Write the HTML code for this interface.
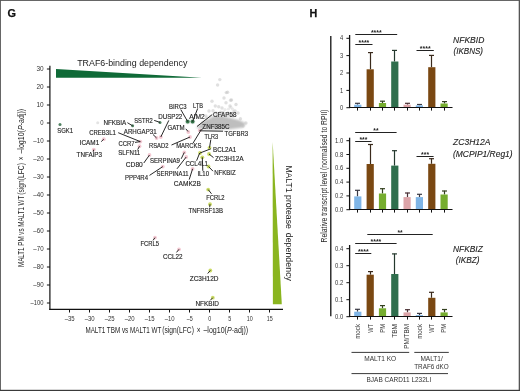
<!DOCTYPE html>
<html><head><meta charset="utf-8"><title>Figure G H</title>
<style>html,body{margin:0;padding:0;background:#fff}svg{display:block}</style></head>
<body>
<svg width="520" height="391" viewBox="0 0 520 391" font-family='"Liberation Sans", sans-serif'>
<rect x="0.0" y="0.0" width="520.0" height="391.0" fill="#fff"/>
<g opacity="0.999">
<text x="7.4" y="16.9" font-size="11.8" font-weight="bold" fill="#111" stroke="#111" stroke-width="0.25" textLength="8.5" lengthAdjust="spacingAndGlyphs">G</text>
<polygon points="56,68.9 56,77.8 202,77.8" fill="#0f6a37"/>
<text x="77.2" y="66.3" font-size="9" fill="#222" textLength="110.2" lengthAdjust="spacingAndGlyphs">TRAF6-binding dependency</text>
<polygon points="272.6,141 272.9,304.2 281.8,304.2" fill="#8ab51f"/>
<g transform="translate(286,165.4) rotate(90)">
<text x="0.0" y="0.0" font-size="9" fill="#222" textLength="63.4" lengthAdjust="spacingAndGlyphs">MALT1 protease</text>
<text x="67.3" y="0.0" font-size="9" fill="#222" textLength="48.3" lengthAdjust="spacingAndGlyphs">dependency</text>
</g>
<defs><filter id="b1" x="-20%" y="-20%" width="140%" height="140%"><feGaussianBlur stdDeviation="0.9"/></filter><filter id="b2" x="-20%" y="-20%" width="140%" height="140%"><feGaussianBlur stdDeviation="0.5"/></filter></defs>
<g filter="url(#b1)">
<polygon points="196,128 204.5,121.5 213,116.3 222,116 231,118 240,120.5 246,123.5 243,127.5 230,129.3 212,129.8" fill="#b9b9b9" fill-opacity="0.92"/>
</g>
<g filter="url(#b2)">
<circle cx="219.8" cy="79.6" r="1.7" fill="#c2c2c2" fill-opacity="0.5"/>
<circle cx="217.6" cy="85.0" r="1.7" fill="#c2c2c2" fill-opacity="0.5"/>
<circle cx="226.3" cy="92.6" r="1.7" fill="#c2c2c2" fill-opacity="0.5"/>
<circle cx="224.0" cy="98.0" r="1.7" fill="#c2c2c2" fill-opacity="0.5"/>
<circle cx="230.6" cy="100.2" r="1.7" fill="#c2c2c2" fill-opacity="0.5"/>
<circle cx="212.0" cy="101.3" r="1.7" fill="#c2c2c2" fill-opacity="0.5"/>
<circle cx="218.7" cy="106.7" r="1.7" fill="#c2c2c2" fill-opacity="0.5"/>
<circle cx="209.0" cy="111.0" r="1.7" fill="#c2c2c2" fill-opacity="0.5"/>
<circle cx="235.0" cy="111.0" r="1.7" fill="#c2c2c2" fill-opacity="0.5"/>
<circle cx="240.4" cy="118.7" r="1.7" fill="#c2c2c2" fill-opacity="0.5"/>
<circle cx="245.9" cy="123.0" r="1.7" fill="#c2c2c2" fill-opacity="0.5"/>
<circle cx="227.6" cy="92.3" r="1.7" fill="#c2c2c2" fill-opacity="0.5"/>
<circle cx="231.5" cy="100.0" r="1.7" fill="#c2c2c2" fill-opacity="0.5"/>
<circle cx="226.0" cy="102.7" r="1.7" fill="#c2c2c2" fill-opacity="0.5"/>
<circle cx="215.3" cy="106.0" r="1.7" fill="#c2c2c2" fill-opacity="0.5"/>
<circle cx="213.0" cy="110.7" r="1.7" fill="#c2c2c2" fill-opacity="0.5"/>
<circle cx="220.7" cy="112.2" r="1.7" fill="#c2c2c2" fill-opacity="0.5"/>
<circle cx="230.0" cy="106.0" r="1.7" fill="#c2c2c2" fill-opacity="0.5"/>
<circle cx="236.0" cy="104.5" r="1.7" fill="#c2c2c2" fill-opacity="0.5"/>
<circle cx="238.0" cy="113.0" r="1.7" fill="#c2c2c2" fill-opacity="0.5"/>
<circle cx="222.0" cy="108.0" r="1.7" fill="#c2c2c2" fill-opacity="0.5"/>
<circle cx="228.0" cy="113.0" r="1.7" fill="#c2c2c2" fill-opacity="0.5"/>
<circle cx="216.0" cy="113.0" r="1.7" fill="#c2c2c2" fill-opacity="0.5"/>
<circle cx="206.0" cy="116.0" r="1.7" fill="#c2c2c2" fill-opacity="0.5"/>
<circle cx="243.0" cy="126.0" r="1.7" fill="#c2c2c2" fill-opacity="0.5"/>
<circle cx="233.0" cy="116.0" r="1.7" fill="#c2c2c2" fill-opacity="0.5"/>
<circle cx="214.7" cy="121.0" r="1.6" fill="#bcbcbc" fill-opacity="0.3"/>
<circle cx="202.6" cy="122.6" r="1.6" fill="#bcbcbc" fill-opacity="0.3"/>
<circle cx="203.4" cy="123.1" r="1.6" fill="#bcbcbc" fill-opacity="0.3"/>
<circle cx="217.5" cy="117.5" r="1.6" fill="#bcbcbc" fill-opacity="0.3"/>
<circle cx="216.9" cy="116.2" r="1.6" fill="#bcbcbc" fill-opacity="0.3"/>
<circle cx="206.2" cy="117.7" r="1.6" fill="#bcbcbc" fill-opacity="0.3"/>
<circle cx="217.3" cy="119.1" r="1.6" fill="#bcbcbc" fill-opacity="0.3"/>
<circle cx="204.6" cy="122.6" r="1.6" fill="#bcbcbc" fill-opacity="0.3"/>
<circle cx="208.2" cy="122.5" r="1.6" fill="#bcbcbc" fill-opacity="0.3"/>
<circle cx="230.9" cy="115.0" r="1.6" fill="#bcbcbc" fill-opacity="0.3"/>
<circle cx="222.0" cy="116.3" r="1.6" fill="#bcbcbc" fill-opacity="0.3"/>
<circle cx="205.4" cy="123.3" r="1.6" fill="#bcbcbc" fill-opacity="0.3"/>
<circle cx="223.6" cy="114.2" r="1.6" fill="#bcbcbc" fill-opacity="0.3"/>
<circle cx="220.3" cy="115.3" r="1.6" fill="#bcbcbc" fill-opacity="0.3"/>
<circle cx="228.5" cy="109.0" r="1.6" fill="#bcbcbc" fill-opacity="0.3"/>
<circle cx="217.5" cy="114.0" r="1.6" fill="#bcbcbc" fill-opacity="0.3"/>
<circle cx="225.5" cy="120.7" r="1.6" fill="#bcbcbc" fill-opacity="0.3"/>
<circle cx="203.1" cy="123.1" r="1.6" fill="#bcbcbc" fill-opacity="0.3"/>
<circle cx="206.6" cy="121.6" r="1.6" fill="#bcbcbc" fill-opacity="0.3"/>
<circle cx="225.0" cy="109.5" r="1.6" fill="#bcbcbc" fill-opacity="0.3"/>
<circle cx="230.6" cy="115.0" r="1.6" fill="#bcbcbc" fill-opacity="0.3"/>
<circle cx="220.3" cy="113.1" r="1.6" fill="#bcbcbc" fill-opacity="0.3"/>
<circle cx="232.7" cy="109.2" r="1.6" fill="#bcbcbc" fill-opacity="0.3"/>
<circle cx="227.5" cy="115.0" r="1.6" fill="#bcbcbc" fill-opacity="0.3"/>
<circle cx="227.7" cy="113.4" r="1.6" fill="#bcbcbc" fill-opacity="0.3"/>
<circle cx="209.4" cy="121.2" r="1.6" fill="#bcbcbc" fill-opacity="0.3"/>
<circle cx="201.6" cy="123.8" r="1.6" fill="#bcbcbc" fill-opacity="0.3"/>
<circle cx="209.2" cy="122.9" r="1.6" fill="#bcbcbc" fill-opacity="0.3"/>
<circle cx="206.4" cy="123.2" r="1.6" fill="#bcbcbc" fill-opacity="0.3"/>
<circle cx="233.5" cy="111.9" r="1.6" fill="#bcbcbc" fill-opacity="0.3"/>
<circle cx="223.4" cy="112.1" r="1.6" fill="#bcbcbc" fill-opacity="0.3"/>
<circle cx="231.0" cy="113.7" r="1.6" fill="#bcbcbc" fill-opacity="0.3"/>
<circle cx="218.0" cy="115.0" r="1.6" fill="#bcbcbc" fill-opacity="0.3"/>
<circle cx="207.8" cy="122.5" r="1.6" fill="#bcbcbc" fill-opacity="0.3"/>
<circle cx="207.3" cy="120.5" r="1.6" fill="#bcbcbc" fill-opacity="0.3"/>
<circle cx="213.0" cy="119.8" r="1.6" fill="#bcbcbc" fill-opacity="0.3"/>
<circle cx="210.0" cy="116.1" r="1.6" fill="#bcbcbc" fill-opacity="0.3"/>
<circle cx="222.7" cy="112.6" r="1.6" fill="#bcbcbc" fill-opacity="0.3"/>
<circle cx="229.0" cy="115.3" r="1.6" fill="#bcbcbc" fill-opacity="0.3"/>
<circle cx="231.0" cy="107.4" r="1.6" fill="#bcbcbc" fill-opacity="0.3"/>
<circle cx="97.7" cy="122.7" r="1.5" fill="#d0d0d0" fill-opacity="0.6"/>
</g>
<line x1="49.9" y1="65.8" x2="49.9" y2="309.9" stroke="#111" stroke-width="1.2"/>
<line x1="49.3" y1="309.4" x2="283.0" y2="309.4" stroke="#111" stroke-width="1.2"/>
<line x1="46.9" y1="69.0" x2="50.0" y2="69.0" stroke="#111" stroke-width="1.0"/>
<text x="36.4" y="71.0" font-size="6.4" fill="#333" textLength="7.2" lengthAdjust="spacingAndGlyphs">30</text>
<line x1="46.9" y1="87.0" x2="50.0" y2="87.0" stroke="#111" stroke-width="1.0"/>
<text x="36.4" y="89.0" font-size="6.4" fill="#333" textLength="7.2" lengthAdjust="spacingAndGlyphs">20</text>
<line x1="46.9" y1="105.0" x2="50.0" y2="105.0" stroke="#111" stroke-width="1.0"/>
<text x="36.4" y="107.0" font-size="6.4" fill="#333" textLength="7.2" lengthAdjust="spacingAndGlyphs">10</text>
<line x1="46.9" y1="123.0" x2="50.0" y2="123.0" stroke="#111" stroke-width="1.0"/>
<text x="40.3" y="125.0" font-size="6.4" fill="#333" textLength="3.3" lengthAdjust="spacingAndGlyphs">0</text>
<line x1="46.9" y1="141.0" x2="50.0" y2="141.0" stroke="#111" stroke-width="1.0"/>
<text x="33.3" y="143.0" font-size="6.4" fill="#333" textLength="10.3" lengthAdjust="spacingAndGlyphs">–10</text>
<line x1="46.9" y1="159.0" x2="50.0" y2="159.0" stroke="#111" stroke-width="1.0"/>
<text x="33.3" y="161.0" font-size="6.4" fill="#333" textLength="10.3" lengthAdjust="spacingAndGlyphs">–20</text>
<line x1="46.9" y1="177.0" x2="50.0" y2="177.0" stroke="#111" stroke-width="1.0"/>
<text x="33.3" y="179.0" font-size="6.4" fill="#333" textLength="10.3" lengthAdjust="spacingAndGlyphs">–30</text>
<line x1="46.9" y1="195.0" x2="50.0" y2="195.0" stroke="#111" stroke-width="1.0"/>
<text x="33.3" y="197.0" font-size="6.4" fill="#333" textLength="10.3" lengthAdjust="spacingAndGlyphs">–40</text>
<line x1="46.9" y1="213.0" x2="50.0" y2="213.0" stroke="#111" stroke-width="1.0"/>
<text x="33.3" y="215.0" font-size="6.4" fill="#333" textLength="10.3" lengthAdjust="spacingAndGlyphs">–50</text>
<line x1="46.9" y1="231.0" x2="50.0" y2="231.0" stroke="#111" stroke-width="1.0"/>
<text x="33.3" y="233.0" font-size="6.4" fill="#333" textLength="10.3" lengthAdjust="spacingAndGlyphs">–60</text>
<line x1="46.9" y1="249.0" x2="50.0" y2="249.0" stroke="#111" stroke-width="1.0"/>
<text x="33.3" y="251.0" font-size="6.4" fill="#333" textLength="10.3" lengthAdjust="spacingAndGlyphs">–70</text>
<line x1="46.9" y1="267.0" x2="50.0" y2="267.0" stroke="#111" stroke-width="1.0"/>
<text x="33.3" y="269.0" font-size="6.4" fill="#333" textLength="10.3" lengthAdjust="spacingAndGlyphs">–80</text>
<line x1="46.9" y1="285.0" x2="50.0" y2="285.0" stroke="#111" stroke-width="1.0"/>
<text x="33.3" y="287.0" font-size="6.4" fill="#333" textLength="10.3" lengthAdjust="spacingAndGlyphs">–90</text>
<line x1="46.9" y1="303.0" x2="50.0" y2="303.0" stroke="#111" stroke-width="1.0"/>
<text x="30.6" y="305.0" font-size="6.4" fill="#333" textLength="13.0" lengthAdjust="spacingAndGlyphs">–100</text>
<line x1="69.5" y1="309.3" x2="69.5" y2="312.5" stroke="#111" stroke-width="1.0"/>
<text x="64.7" y="320.8" font-size="6.4" fill="#333" textLength="10.0" lengthAdjust="spacingAndGlyphs">–35</text>
<line x1="89.5" y1="309.3" x2="89.5" y2="312.5" stroke="#111" stroke-width="1.0"/>
<text x="84.7" y="320.8" font-size="6.4" fill="#333" textLength="10.0" lengthAdjust="spacingAndGlyphs">–30</text>
<line x1="109.5" y1="309.3" x2="109.5" y2="312.5" stroke="#111" stroke-width="1.0"/>
<text x="104.7" y="320.8" font-size="6.4" fill="#333" textLength="10.0" lengthAdjust="spacingAndGlyphs">–25</text>
<line x1="129.5" y1="309.3" x2="129.5" y2="312.5" stroke="#111" stroke-width="1.0"/>
<text x="124.7" y="320.8" font-size="6.4" fill="#333" textLength="10.0" lengthAdjust="spacingAndGlyphs">–20</text>
<line x1="149.5" y1="309.3" x2="149.5" y2="312.5" stroke="#111" stroke-width="1.0"/>
<text x="144.7" y="320.8" font-size="6.4" fill="#333" textLength="10.0" lengthAdjust="spacingAndGlyphs">–15</text>
<line x1="169.5" y1="309.3" x2="169.5" y2="312.5" stroke="#111" stroke-width="1.0"/>
<text x="164.7" y="320.8" font-size="6.4" fill="#333" textLength="10.0" lengthAdjust="spacingAndGlyphs">–10</text>
<line x1="189.5" y1="309.3" x2="189.5" y2="312.5" stroke="#111" stroke-width="1.0"/>
<text x="186.7" y="320.8" font-size="6.4" fill="#333" textLength="6.0" lengthAdjust="spacingAndGlyphs">–5</text>
<line x1="209.5" y1="309.3" x2="209.5" y2="312.5" stroke="#111" stroke-width="1.0"/>
<text x="208.2" y="320.8" font-size="6.4" fill="#333" textLength="3.0" lengthAdjust="spacingAndGlyphs">0</text>
<line x1="229.5" y1="309.3" x2="229.5" y2="312.5" stroke="#111" stroke-width="1.0"/>
<text x="228.2" y="320.8" font-size="6.4" fill="#333" textLength="3.0" lengthAdjust="spacingAndGlyphs">5</text>
<line x1="249.5" y1="309.3" x2="249.5" y2="312.5" stroke="#111" stroke-width="1.0"/>
<text x="246.7" y="320.8" font-size="6.4" fill="#333" textLength="6.0" lengthAdjust="spacingAndGlyphs">10</text>
<line x1="269.5" y1="309.3" x2="269.5" y2="312.5" stroke="#111" stroke-width="1.0"/>
<text x="266.7" y="320.8" font-size="6.4" fill="#333" textLength="6.0" lengthAdjust="spacingAndGlyphs">15</text>
<g transform="translate(85.4,333.4)">
<text x="0.0" y="0.0" font-size="9" fill="#262626" textLength="75.9" lengthAdjust="spacingAndGlyphs">MALT1 TBM vs MALT1 WT</text>
<text x="76.9" y="0.0" font-size="9" fill="#262626" textLength="31.6" lengthAdjust="spacingAndGlyphs">(sign(LFC)</text>
<text x="111.4" y="0.0" font-size="9" fill="#262626" textLength="3.8" lengthAdjust="spacingAndGlyphs">×</text>
<text x="118.0" y="0" font-size="9" fill="#262626" textLength="44.8" lengthAdjust="spacingAndGlyphs">–log10(<tspan font-style="italic">P</tspan>-adj))</text>
</g>
<g transform="translate(23.6,267) rotate(-90)">
<text x="0.0" y="0.0" font-size="9" fill="#262626" textLength="71.3" lengthAdjust="spacingAndGlyphs">MALT1 PM vs MALT1 WT</text>
<text x="72.3" y="0.0" font-size="9" fill="#262626" textLength="31.6" lengthAdjust="spacingAndGlyphs">(sign(LFC)</text>
<text x="106.8" y="0.0" font-size="9" fill="#262626" textLength="3.8" lengthAdjust="spacingAndGlyphs">×</text>
<text x="113.4" y="0" font-size="9" fill="#262626" textLength="44.8" lengthAdjust="spacingAndGlyphs">–log10(<tspan font-style="italic">P</tspan>-adj))</text>
</g>
<circle cx="60.0" cy="124.5" r="1.5" fill="#3c7450" fill-opacity="0.9"/>
<circle cx="132.6" cy="125.8" r="1.5" fill="#3c7450" fill-opacity="0.9"/>
<circle cx="160.0" cy="122.4" r="1.5" fill="#3c7450" fill-opacity="0.9"/>
<circle cx="160.8" cy="137.0" r="1.9" fill="#f0b4c2" fill-opacity="0.72"/>
<circle cx="156.6" cy="138.0" r="1.9" fill="#f0b4c2" fill-opacity="0.72"/>
<circle cx="140.3" cy="141.6" r="1.9" fill="#f0b4c2" fill-opacity="0.72"/>
<circle cx="139.5" cy="146.2" r="1.9" fill="#f0b4c2" fill-opacity="0.72"/>
<circle cx="103.8" cy="139.2" r="1.9" fill="#f0b4c2" fill-opacity="0.72"/>
<circle cx="93.8" cy="149.6" r="1.9" fill="#f0b4c2" fill-opacity="0.72"/>
<circle cx="149.5" cy="155.0" r="1.9" fill="#f0b4c2" fill-opacity="0.72"/>
<circle cx="162.8" cy="166.6" r="1.9" fill="#f0b4c2" fill-opacity="0.72"/>
<circle cx="184.3" cy="152.4" r="1.9" fill="#f0b4c2" fill-opacity="0.72"/>
<circle cx="186.2" cy="157.0" r="1.9" fill="#f0b4c2" fill-opacity="0.72"/>
<circle cx="192.6" cy="168.8" r="1.9" fill="#f0b4c2" fill-opacity="0.72"/>
<circle cx="190.0" cy="137.0" r="1.9" fill="#f0b4c2" fill-opacity="0.72"/>
<circle cx="188.3" cy="132.0" r="1.9" fill="#f0b4c2" fill-opacity="0.72"/>
<circle cx="187.7" cy="121.6" r="2.6" fill="#8aa694" fill-opacity="0.35"/>
<circle cx="187.7" cy="121.6" r="1.9" fill="#2b7341" fill-opacity="0.92"/>
<circle cx="192.6" cy="121.6" r="2.6" fill="#8aa694" fill-opacity="0.35"/>
<circle cx="192.6" cy="121.6" r="1.9" fill="#256b3b" fill-opacity="0.92"/>
<circle cx="199.7" cy="130.4" r="1.9" fill="#f0b4c2" fill-opacity="0.72"/>
<circle cx="209.5" cy="147.8" r="1.9" fill="#c3d64e" fill-opacity="0.85"/>
<circle cx="200.0" cy="153.0" r="1.9" fill="#c3d64e" fill-opacity="0.85"/>
<circle cx="209.0" cy="154.0" r="1.9" fill="#c3d64e" fill-opacity="0.85"/>
<circle cx="202.3" cy="157.3" r="1.9" fill="#c3d64e" fill-opacity="0.85"/>
<circle cx="208.5" cy="166.5" r="1.9" fill="#c3d64e" fill-opacity="0.85"/>
<circle cx="208.2" cy="189.6" r="1.9" fill="#c3d64e" fill-opacity="0.85"/>
<circle cx="210.0" cy="204.2" r="1.9" fill="#c3d64e" fill-opacity="0.85"/>
<circle cx="155.0" cy="237.6" r="1.9" fill="#f0b4c2" fill-opacity="0.72"/>
<circle cx="179.0" cy="249.3" r="1.9" fill="#f0b4c2" fill-opacity="0.72"/>
<circle cx="210.3" cy="270.5" r="1.9" fill="#c3d64e" fill-opacity="0.85"/>
<circle cx="212.8" cy="297.7" r="1.9" fill="#c3d64e" fill-opacity="0.85"/>
<line x1="127.4" y1="122.7" x2="132.6" y2="125.8" stroke="#1c1c1c" stroke-width="0.95"/>
<line x1="154.2" y1="120.4" x2="160.0" y2="122.4" stroke="#1c1c1c" stroke-width="0.95"/>
<line x1="168.8" y1="120.4" x2="160.8" y2="137.0" stroke="#1c1c1c" stroke-width="0.95"/>
<line x1="153.0" y1="134.5" x2="156.6" y2="138.0" stroke="#1c1c1c" stroke-width="0.95"/>
<line x1="118.2" y1="132.7" x2="140.3" y2="141.6" stroke="#1c1c1c" stroke-width="0.95"/>
<line x1="135.0" y1="142.4" x2="140.3" y2="141.6" stroke="#1c1c1c" stroke-width="0.95"/>
<line x1="137.7" y1="149.6" x2="139.5" y2="146.2" stroke="#1c1c1c" stroke-width="0.95"/>
<line x1="101.2" y1="141.6" x2="103.8" y2="139.2" stroke="#1c1c1c" stroke-width="0.95"/>
<line x1="93.2" y1="151.8" x2="93.8" y2="149.6" stroke="#1c1c1c" stroke-width="0.95"/>
<line x1="143.8" y1="163.0" x2="149.5" y2="155.0" stroke="#1c1c1c" stroke-width="0.95"/>
<line x1="149.5" y1="175.4" x2="162.8" y2="166.6" stroke="#1c1c1c" stroke-width="0.95"/>
<line x1="181.2" y1="158.8" x2="184.3" y2="152.4" stroke="#1c1c1c" stroke-width="0.95"/>
<line x1="177.0" y1="168.8" x2="186.2" y2="157.0" stroke="#1c1c1c" stroke-width="0.95"/>
<line x1="189.2" y1="179.6" x2="192.6" y2="168.8" stroke="#1c1c1c" stroke-width="0.95"/>
<line x1="171.5" y1="145.0" x2="190.0" y2="137.0" stroke="#1c1c1c" stroke-width="0.95"/>
<line x1="185.8" y1="128.8" x2="188.0" y2="131.5" stroke="#1c1c1c" stroke-width="0.95"/>
<line x1="180.8" y1="109.6" x2="187.7" y2="121.6" stroke="#1c1c1c" stroke-width="0.95"/>
<line x1="197.7" y1="108.4" x2="192.6" y2="121.6" stroke="#1c1c1c" stroke-width="0.95"/>
<line x1="212.3" y1="114.5" x2="197.0" y2="126.5" stroke="#1c1c1c" stroke-width="0.95"/>
<line x1="199.7" y1="130.8" x2="223.0" y2="131.2" stroke="#1c1c1c" stroke-width="0.95"/>
<line x1="193.0" y1="143.2" x2="200.3" y2="131.2" stroke="#1c1c1c" stroke-width="0.95"/>
<line x1="202.5" y1="129.4" x2="199.7" y2="130.5" stroke="#1c1c1c" stroke-width="0.95"/>
<line x1="210.8" y1="139.6" x2="209.5" y2="147.8" stroke="#1c1c1c" stroke-width="0.95"/>
<line x1="210.8" y1="148.8" x2="200.0" y2="153.0" stroke="#1c1c1c" stroke-width="0.95"/>
<line x1="213.5" y1="157.6" x2="209.0" y2="154.0" stroke="#1c1c1c" stroke-width="0.95"/>
<line x1="196.6" y1="160.7" x2="199.7" y2="153.0" stroke="#1c1c1c" stroke-width="0.95"/>
<line x1="202.3" y1="157.3" x2="202.8" y2="170.8" stroke="#1c1c1c" stroke-width="0.95"/>
<line x1="213.0" y1="171.2" x2="208.5" y2="166.5" stroke="#1c1c1c" stroke-width="0.95"/>
<line x1="211.5" y1="193.8" x2="208.2" y2="189.6" stroke="#1c1c1c" stroke-width="0.95"/>
<line x1="209.7" y1="207.3" x2="210.0" y2="204.2" stroke="#1c1c1c" stroke-width="0.95"/>
<line x1="153.0" y1="240.4" x2="155.0" y2="237.6" stroke="#1c1c1c" stroke-width="0.95"/>
<line x1="176.5" y1="252.4" x2="179.0" y2="249.3" stroke="#1c1c1c" stroke-width="0.95"/>
<line x1="207.7" y1="273.5" x2="210.3" y2="270.5" stroke="#1c1c1c" stroke-width="0.95"/>
<line x1="210.3" y1="300.3" x2="212.8" y2="297.7" stroke="#1c1c1c" stroke-width="0.95"/>
<text x="57.2" y="132.5" font-size="6.8" fill="#262626" stroke="#262626" stroke-width="0.15" textLength="15.8" lengthAdjust="spacingAndGlyphs">SGK1</text>
<text x="103.4" y="124.6" font-size="6.8" fill="#262626" stroke="#262626" stroke-width="0.15" textLength="22.8" lengthAdjust="spacingAndGlyphs">NFKBIA</text>
<text x="89.2" y="135.1" font-size="6.8" fill="#262626" stroke="#262626" stroke-width="0.15" textLength="26.6" lengthAdjust="spacingAndGlyphs">CREB3L1</text>
<text x="79.7" y="144.6" font-size="6.8" fill="#262626" stroke="#262626" stroke-width="0.15" textLength="19.5" lengthAdjust="spacingAndGlyphs">ICAM1</text>
<text x="76.6" y="157.4" font-size="6.8" fill="#262626" stroke="#262626" stroke-width="0.15" textLength="25.4" lengthAdjust="spacingAndGlyphs">TNFAIP3</text>
<text x="134.2" y="122.5" font-size="6.8" fill="#262626" stroke="#262626" stroke-width="0.15" textLength="18.6" lengthAdjust="spacingAndGlyphs">SSTR2</text>
<text x="158.2" y="119.3" font-size="6.8" fill="#262626" stroke="#262626" stroke-width="0.15" textLength="24.1" lengthAdjust="spacingAndGlyphs">DUSP22</text>
<text x="123.8" y="134.3" font-size="6.8" fill="#262626" stroke="#262626" stroke-width="0.15" textLength="32.8" lengthAdjust="spacingAndGlyphs">ARHGAP31</text>
<text x="118.5" y="145.9" font-size="6.8" fill="#262626" stroke="#262626" stroke-width="0.15" textLength="16.1" lengthAdjust="spacingAndGlyphs">CCR7</text>
<text x="118.2" y="155.1" font-size="6.8" fill="#262626" stroke="#262626" stroke-width="0.15" textLength="22.1" lengthAdjust="spacingAndGlyphs">SLFN11</text>
<text x="149.0" y="147.9" font-size="6.8" fill="#262626" stroke="#262626" stroke-width="0.15" textLength="19.5" lengthAdjust="spacingAndGlyphs">RSAD2</text>
<text x="167.4" y="129.9" font-size="6.8" fill="#262626" stroke="#262626" stroke-width="0.15" textLength="17.2" lengthAdjust="spacingAndGlyphs">GATM</text>
<text x="169.0" y="108.9" font-size="6.8" fill="#262626" stroke="#262626" stroke-width="0.15" textLength="17.5" lengthAdjust="spacingAndGlyphs">BIRC3</text>
<text x="193.0" y="108.1" font-size="6.8" fill="#262626" stroke="#262626" stroke-width="0.15" textLength="10.0" lengthAdjust="spacingAndGlyphs">LTB</text>
<text x="189.2" y="118.6" font-size="6.8" fill="#262626" stroke="#262626" stroke-width="0.15" textLength="15.4" lengthAdjust="spacingAndGlyphs">AIM2</text>
<text x="213.0" y="116.9" font-size="6.8" fill="#262626" stroke="#262626" stroke-width="0.15" textLength="23.5" lengthAdjust="spacingAndGlyphs">CFAP58</text>
<text x="202.3" y="128.9" font-size="6.8" fill="#262626" stroke="#262626" stroke-width="0.15" textLength="27.2" lengthAdjust="spacingAndGlyphs">ZNF385C</text>
<text x="224.5" y="135.6" font-size="6.8" fill="#262626" stroke="#262626" stroke-width="0.15" textLength="23.5" lengthAdjust="spacingAndGlyphs">TGFBR3</text>
<text x="204.6" y="138.9" font-size="6.8" fill="#262626" stroke="#262626" stroke-width="0.15" textLength="13.6" lengthAdjust="spacingAndGlyphs">TLR3</text>
<text x="176.2" y="147.7" font-size="6.8" fill="#262626" stroke="#262626" stroke-width="0.15" textLength="25.3" lengthAdjust="spacingAndGlyphs">MARCKS</text>
<text x="213.0" y="151.6" font-size="6.8" fill="#262626" stroke="#262626" stroke-width="0.15" textLength="23.2" lengthAdjust="spacingAndGlyphs">BCL2A1</text>
<text x="215.0" y="160.6" font-size="6.8" fill="#262626" stroke="#262626" stroke-width="0.15" textLength="28.7" lengthAdjust="spacingAndGlyphs">ZC3H12A</text>
<text x="185.4" y="165.9" font-size="6.8" fill="#262626" stroke="#262626" stroke-width="0.15" textLength="22.6" lengthAdjust="spacingAndGlyphs">CCL4L1</text>
<text x="197.4" y="176.1" font-size="6.8" fill="#262626" stroke="#262626" stroke-width="0.15" textLength="11.6" lengthAdjust="spacingAndGlyphs">IL10</text>
<text x="214.2" y="174.6" font-size="6.8" fill="#262626" stroke="#262626" stroke-width="0.15" textLength="21.5" lengthAdjust="spacingAndGlyphs">NFKBIZ</text>
<text x="150.0" y="163.1" font-size="6.8" fill="#262626" stroke="#262626" stroke-width="0.15" textLength="30.0" lengthAdjust="spacingAndGlyphs">SERPINA9</text>
<text x="156.6" y="175.7" font-size="6.8" fill="#262626" stroke="#262626" stroke-width="0.15" textLength="31.9" lengthAdjust="spacingAndGlyphs">SERPINA11</text>
<text x="173.8" y="186.1" font-size="6.8" fill="#262626" stroke="#262626" stroke-width="0.15" textLength="27.0" lengthAdjust="spacingAndGlyphs">CAMK2B</text>
<text x="125.8" y="167.1" font-size="6.8" fill="#262626" stroke="#262626" stroke-width="0.15" textLength="17.0" lengthAdjust="spacingAndGlyphs">CD80</text>
<text x="125.0" y="180.1" font-size="6.8" fill="#262626" stroke="#262626" stroke-width="0.15" textLength="23.0" lengthAdjust="spacingAndGlyphs">PPP4R4</text>
<text x="206.2" y="199.7" font-size="6.8" fill="#262626" stroke="#262626" stroke-width="0.15" textLength="18.4" lengthAdjust="spacingAndGlyphs">FCRL2</text>
<text x="188.5" y="212.8" font-size="6.8" fill="#262626" stroke="#262626" stroke-width="0.15" textLength="34.5" lengthAdjust="spacingAndGlyphs">TNFRSF13B</text>
<text x="140.5" y="246.3" font-size="6.8" fill="#262626" stroke="#262626" stroke-width="0.15" textLength="18.5" lengthAdjust="spacingAndGlyphs">FCRL5</text>
<text x="163.0" y="258.6" font-size="6.8" fill="#262626" stroke="#262626" stroke-width="0.15" textLength="19.6" lengthAdjust="spacingAndGlyphs">CCL22</text>
<text x="189.7" y="280.9" font-size="6.8" fill="#262626" stroke="#262626" stroke-width="0.15" textLength="28.8" lengthAdjust="spacingAndGlyphs">ZC3H12D</text>
<text x="195.4" y="306.3" font-size="6.8" fill="#262626" stroke="#262626" stroke-width="0.15" textLength="23.6" lengthAdjust="spacingAndGlyphs">NFKBID</text>
<text x="309.6" y="16.7" font-size="11.8" font-weight="bold" fill="#111" stroke="#111" stroke-width="0.25" textLength="7.8" lengthAdjust="spacingAndGlyphs">H</text>
<line x1="330.8" y1="36.0" x2="330.8" y2="316.3" stroke="#111" stroke-width="1.3"/>
<g transform="translate(326.6,242.4) rotate(-90)">
<text x="0.0" y="0.0" font-size="8.8" fill="#262626" textLength="133.0" lengthAdjust="spacingAndGlyphs">Relative transcript level (normalised to RPII)</text>
</g>
<line x1="357.5" y1="104.7" x2="357.5" y2="103.0" stroke="#3a3a44" stroke-width="1.2"/>
<line x1="355.0" y1="103.3" x2="360.0" y2="103.3" stroke="#3a3a44" stroke-width="1.2"/>
<rect x="354.2" y="104.7" width="7.2" height="2.8" fill="#7fb5e6"/>
<line x1="370.5" y1="69.3" x2="370.5" y2="52.3" stroke="#3a2a1c" stroke-width="1.2"/>
<line x1="368.0" y1="52.6" x2="373.0" y2="52.6" stroke="#3a2a1c" stroke-width="1.2"/>
<rect x="366.6" y="69.3" width="7.2" height="38.2" fill="#7a4812"/>
<line x1="382.5" y1="103.0" x2="382.5" y2="100.9" stroke="#33401f" stroke-width="1.2"/>
<line x1="380.0" y1="101.2" x2="385.0" y2="101.2" stroke="#33401f" stroke-width="1.2"/>
<rect x="378.9" y="103.0" width="7.2" height="4.5" fill="#76ad2f"/>
<line x1="394.5" y1="61.5" x2="394.5" y2="50.1" stroke="#24382d" stroke-width="1.2"/>
<line x1="392.0" y1="50.4" x2="397.0" y2="50.4" stroke="#24382d" stroke-width="1.2"/>
<rect x="391.2" y="61.5" width="7.2" height="46.0" fill="#2f6e4d"/>
<line x1="407.5" y1="104.7" x2="407.5" y2="103.0" stroke="#4a3034" stroke-width="1.2"/>
<line x1="405.0" y1="103.3" x2="410.0" y2="103.3" stroke="#4a3034" stroke-width="1.2"/>
<rect x="403.5" y="104.7" width="7.2" height="2.8" fill="#dca4a8"/>
<line x1="419.5" y1="105.4" x2="419.5" y2="104.2" stroke="#3a3a44" stroke-width="1.2"/>
<line x1="417.0" y1="104.5" x2="422.0" y2="104.5" stroke="#3a3a44" stroke-width="1.2"/>
<rect x="415.8" y="105.4" width="7.2" height="2.1" fill="#7fb5e6"/>
<line x1="431.5" y1="67.2" x2="431.5" y2="55.1" stroke="#3a2a1c" stroke-width="1.2"/>
<line x1="429.0" y1="55.4" x2="434.0" y2="55.4" stroke="#3a2a1c" stroke-width="1.2"/>
<rect x="428.2" y="67.2" width="7.2" height="40.3" fill="#7a4812"/>
<line x1="444.5" y1="103.5" x2="444.5" y2="101.3" stroke="#33401f" stroke-width="1.2"/>
<line x1="442.0" y1="101.6" x2="447.0" y2="101.6" stroke="#33401f" stroke-width="1.2"/>
<rect x="440.5" y="103.5" width="7.2" height="4.0" fill="#76ad2f"/>
<line x1="349.6" y1="35.0" x2="349.6" y2="108.1" stroke="#111" stroke-width="1.3"/>
<line x1="349.0" y1="107.5" x2="452.5" y2="107.5" stroke="#111" stroke-width="1.2"/>
<line x1="357.5" y1="107.5" x2="357.5" y2="110.6" stroke="#111" stroke-width="1.0"/>
<line x1="370.5" y1="107.5" x2="370.5" y2="110.6" stroke="#111" stroke-width="1.0"/>
<line x1="382.5" y1="107.5" x2="382.5" y2="110.6" stroke="#111" stroke-width="1.0"/>
<line x1="394.5" y1="107.5" x2="394.5" y2="110.6" stroke="#111" stroke-width="1.0"/>
<line x1="407.5" y1="107.5" x2="407.5" y2="110.6" stroke="#111" stroke-width="1.0"/>
<line x1="419.5" y1="107.5" x2="419.5" y2="110.6" stroke="#111" stroke-width="1.0"/>
<line x1="431.5" y1="107.5" x2="431.5" y2="110.6" stroke="#111" stroke-width="1.0"/>
<line x1="444.5" y1="107.5" x2="444.5" y2="110.6" stroke="#111" stroke-width="1.0"/>
<line x1="346.4" y1="107.7" x2="349.6" y2="107.7" stroke="#111" stroke-width="1.0"/>
<text x="340.0" y="109.8" font-size="6.4" fill="#333" textLength="3.2" lengthAdjust="spacingAndGlyphs">0</text>
<line x1="346.4" y1="90.4" x2="349.6" y2="90.4" stroke="#111" stroke-width="1.0"/>
<text x="340.0" y="92.5" font-size="6.4" fill="#333" textLength="3.2" lengthAdjust="spacingAndGlyphs">1</text>
<line x1="346.4" y1="73.0" x2="349.6" y2="73.0" stroke="#111" stroke-width="1.0"/>
<text x="340.0" y="75.1" font-size="6.4" fill="#333" textLength="3.2" lengthAdjust="spacingAndGlyphs">2</text>
<line x1="346.4" y1="55.6" x2="349.6" y2="55.6" stroke="#111" stroke-width="1.0"/>
<text x="340.0" y="57.7" font-size="6.4" fill="#333" textLength="3.2" lengthAdjust="spacingAndGlyphs">3</text>
<line x1="346.4" y1="38.3" x2="349.6" y2="38.3" stroke="#111" stroke-width="1.0"/>
<text x="340.0" y="40.4" font-size="6.4" fill="#333" textLength="3.2" lengthAdjust="spacingAndGlyphs">4</text>
<line x1="357.5" y1="196.4" x2="357.5" y2="190.0" stroke="#3a3a44" stroke-width="1.2"/>
<line x1="355.0" y1="190.3" x2="360.0" y2="190.3" stroke="#3a3a44" stroke-width="1.2"/>
<rect x="354.2" y="196.4" width="7.2" height="13.1" fill="#7fb5e6"/>
<line x1="370.5" y1="164.0" x2="370.5" y2="144.2" stroke="#3a2a1c" stroke-width="1.2"/>
<line x1="368.0" y1="144.5" x2="373.0" y2="144.5" stroke="#3a2a1c" stroke-width="1.2"/>
<rect x="366.6" y="164.0" width="7.2" height="45.5" fill="#7a4812"/>
<line x1="382.5" y1="193.5" x2="382.5" y2="188.4" stroke="#33401f" stroke-width="1.2"/>
<line x1="380.0" y1="188.7" x2="385.0" y2="188.7" stroke="#33401f" stroke-width="1.2"/>
<rect x="378.9" y="193.5" width="7.2" height="16.0" fill="#76ad2f"/>
<line x1="394.5" y1="165.6" x2="394.5" y2="150.4" stroke="#24382d" stroke-width="1.2"/>
<line x1="392.0" y1="150.7" x2="397.0" y2="150.7" stroke="#24382d" stroke-width="1.2"/>
<rect x="391.2" y="165.6" width="7.2" height="43.9" fill="#2f6e4d"/>
<line x1="407.5" y1="197.1" x2="407.5" y2="192.7" stroke="#4a3034" stroke-width="1.2"/>
<line x1="405.0" y1="193.0" x2="410.0" y2="193.0" stroke="#4a3034" stroke-width="1.2"/>
<rect x="403.5" y="197.1" width="7.2" height="12.4" fill="#dca4a8"/>
<line x1="419.5" y1="197.1" x2="419.5" y2="194.0" stroke="#3a3a44" stroke-width="1.2"/>
<line x1="417.0" y1="194.3" x2="422.0" y2="194.3" stroke="#3a3a44" stroke-width="1.2"/>
<rect x="415.8" y="197.1" width="7.2" height="12.4" fill="#7fb5e6"/>
<line x1="431.5" y1="163.8" x2="431.5" y2="158.4" stroke="#3a2a1c" stroke-width="1.2"/>
<line x1="429.0" y1="158.7" x2="434.0" y2="158.7" stroke="#3a2a1c" stroke-width="1.2"/>
<rect x="428.2" y="163.8" width="7.2" height="45.7" fill="#7a4812"/>
<line x1="444.5" y1="194.5" x2="444.5" y2="190.7" stroke="#33401f" stroke-width="1.2"/>
<line x1="442.0" y1="191.0" x2="447.0" y2="191.0" stroke="#33401f" stroke-width="1.2"/>
<rect x="440.5" y="194.5" width="7.2" height="15.0" fill="#76ad2f"/>
<line x1="349.6" y1="137.7" x2="349.6" y2="210.1" stroke="#111" stroke-width="1.3"/>
<line x1="349.0" y1="209.5" x2="452.5" y2="209.5" stroke="#111" stroke-width="1.2"/>
<line x1="357.5" y1="209.5" x2="357.5" y2="212.6" stroke="#111" stroke-width="1.0"/>
<line x1="370.5" y1="209.5" x2="370.5" y2="212.6" stroke="#111" stroke-width="1.0"/>
<line x1="382.5" y1="209.5" x2="382.5" y2="212.6" stroke="#111" stroke-width="1.0"/>
<line x1="394.5" y1="209.5" x2="394.5" y2="212.6" stroke="#111" stroke-width="1.0"/>
<line x1="407.5" y1="209.5" x2="407.5" y2="212.6" stroke="#111" stroke-width="1.0"/>
<line x1="419.5" y1="209.5" x2="419.5" y2="212.6" stroke="#111" stroke-width="1.0"/>
<line x1="431.5" y1="209.5" x2="431.5" y2="212.6" stroke="#111" stroke-width="1.0"/>
<line x1="444.5" y1="209.5" x2="444.5" y2="212.6" stroke="#111" stroke-width="1.0"/>
<line x1="346.4" y1="209.7" x2="349.6" y2="209.7" stroke="#111" stroke-width="1.0"/>
<text x="335.0" y="211.8" font-size="6.4" fill="#333" textLength="8.2" lengthAdjust="spacingAndGlyphs">0.0</text>
<line x1="346.4" y1="195.9" x2="349.6" y2="195.9" stroke="#111" stroke-width="1.0"/>
<text x="335.0" y="198.0" font-size="6.4" fill="#333" textLength="8.2" lengthAdjust="spacingAndGlyphs">0.2</text>
<line x1="346.4" y1="182.1" x2="349.6" y2="182.1" stroke="#111" stroke-width="1.0"/>
<text x="335.0" y="184.2" font-size="6.4" fill="#333" textLength="8.2" lengthAdjust="spacingAndGlyphs">0.4</text>
<line x1="346.4" y1="168.3" x2="349.6" y2="168.3" stroke="#111" stroke-width="1.0"/>
<text x="335.0" y="170.4" font-size="6.4" fill="#333" textLength="8.2" lengthAdjust="spacingAndGlyphs">0.6</text>
<line x1="346.4" y1="154.5" x2="349.6" y2="154.5" stroke="#111" stroke-width="1.0"/>
<text x="335.0" y="156.6" font-size="6.4" fill="#333" textLength="8.2" lengthAdjust="spacingAndGlyphs">0.8</text>
<line x1="346.4" y1="140.7" x2="349.6" y2="140.7" stroke="#111" stroke-width="1.0"/>
<text x="335.0" y="142.8" font-size="6.4" fill="#333" textLength="8.2" lengthAdjust="spacingAndGlyphs">1.0</text>
<line x1="357.5" y1="311.7" x2="357.5" y2="309.0" stroke="#3a3a44" stroke-width="1.2"/>
<line x1="355.0" y1="309.3" x2="360.0" y2="309.3" stroke="#3a3a44" stroke-width="1.2"/>
<rect x="354.2" y="311.7" width="7.2" height="4.8" fill="#7fb5e6"/>
<line x1="370.5" y1="274.7" x2="370.5" y2="271.3" stroke="#3a2a1c" stroke-width="1.2"/>
<line x1="368.0" y1="271.6" x2="373.0" y2="271.6" stroke="#3a2a1c" stroke-width="1.2"/>
<rect x="366.6" y="274.7" width="7.2" height="41.8" fill="#7a4812"/>
<line x1="382.5" y1="308.3" x2="382.5" y2="305.3" stroke="#33401f" stroke-width="1.2"/>
<line x1="380.0" y1="305.6" x2="385.0" y2="305.6" stroke="#33401f" stroke-width="1.2"/>
<rect x="378.9" y="308.3" width="7.2" height="8.2" fill="#76ad2f"/>
<line x1="394.5" y1="274.0" x2="394.5" y2="253.6" stroke="#24382d" stroke-width="1.2"/>
<line x1="392.0" y1="253.9" x2="397.0" y2="253.9" stroke="#24382d" stroke-width="1.2"/>
<rect x="391.2" y="274.0" width="7.2" height="42.5" fill="#2f6e4d"/>
<line x1="407.5" y1="312.4" x2="407.5" y2="309.4" stroke="#4a3034" stroke-width="1.2"/>
<line x1="405.0" y1="309.7" x2="410.0" y2="309.7" stroke="#4a3034" stroke-width="1.2"/>
<rect x="403.5" y="312.4" width="7.2" height="4.1" fill="#dca4a8"/>
<line x1="419.5" y1="315.1" x2="419.5" y2="313.1" stroke="#3a3a44" stroke-width="1.2"/>
<line x1="417.0" y1="313.4" x2="422.0" y2="313.4" stroke="#3a3a44" stroke-width="1.2"/>
<rect x="415.8" y="315.1" width="7.2" height="1.4" fill="#7fb5e6"/>
<line x1="431.5" y1="297.8" x2="431.5" y2="292.0" stroke="#3a2a1c" stroke-width="1.2"/>
<line x1="429.0" y1="292.3" x2="434.0" y2="292.3" stroke="#3a2a1c" stroke-width="1.2"/>
<rect x="428.2" y="297.8" width="7.2" height="18.7" fill="#7a4812"/>
<line x1="444.5" y1="312.4" x2="444.5" y2="309.2" stroke="#33401f" stroke-width="1.2"/>
<line x1="442.0" y1="309.5" x2="447.0" y2="309.5" stroke="#33401f" stroke-width="1.2"/>
<rect x="440.5" y="312.4" width="7.2" height="4.1" fill="#76ad2f"/>
<line x1="349.6" y1="245.0" x2="349.6" y2="317.1" stroke="#111" stroke-width="1.3"/>
<line x1="349.0" y1="316.5" x2="452.5" y2="316.5" stroke="#111" stroke-width="1.2"/>
<line x1="357.5" y1="316.5" x2="357.5" y2="319.6" stroke="#111" stroke-width="1.0"/>
<line x1="370.5" y1="316.5" x2="370.5" y2="319.6" stroke="#111" stroke-width="1.0"/>
<line x1="382.5" y1="316.5" x2="382.5" y2="319.6" stroke="#111" stroke-width="1.0"/>
<line x1="394.5" y1="316.5" x2="394.5" y2="319.6" stroke="#111" stroke-width="1.0"/>
<line x1="407.5" y1="316.5" x2="407.5" y2="319.6" stroke="#111" stroke-width="1.0"/>
<line x1="419.5" y1="316.5" x2="419.5" y2="319.6" stroke="#111" stroke-width="1.0"/>
<line x1="431.5" y1="316.5" x2="431.5" y2="319.6" stroke="#111" stroke-width="1.0"/>
<line x1="444.5" y1="316.5" x2="444.5" y2="319.6" stroke="#111" stroke-width="1.0"/>
<line x1="346.4" y1="316.7" x2="349.6" y2="316.7" stroke="#111" stroke-width="1.0"/>
<text x="335.0" y="318.8" font-size="6.4" fill="#333" textLength="8.2" lengthAdjust="spacingAndGlyphs">0.0</text>
<line x1="346.4" y1="299.7" x2="349.6" y2="299.7" stroke="#111" stroke-width="1.0"/>
<text x="335.0" y="301.8" font-size="6.4" fill="#333" textLength="8.2" lengthAdjust="spacingAndGlyphs">0.1</text>
<line x1="346.4" y1="282.7" x2="349.6" y2="282.7" stroke="#111" stroke-width="1.0"/>
<text x="335.0" y="284.8" font-size="6.4" fill="#333" textLength="8.2" lengthAdjust="spacingAndGlyphs">0.2</text>
<line x1="346.4" y1="265.7" x2="349.6" y2="265.7" stroke="#111" stroke-width="1.0"/>
<text x="335.0" y="267.8" font-size="6.4" fill="#333" textLength="8.2" lengthAdjust="spacingAndGlyphs">0.3</text>
<line x1="346.4" y1="248.7" x2="349.6" y2="248.7" stroke="#111" stroke-width="1.0"/>
<text x="335.0" y="250.8" font-size="6.4" fill="#333" textLength="8.2" lengthAdjust="spacingAndGlyphs">0.4</text>
<line x1="355.3" y1="34.5" x2="397.2" y2="34.5" stroke="#222" stroke-width="1.0"/>
<text x="370.9" y="34.8" font-size="7.4" fill="#222" textLength="10.8" lengthAdjust="spacingAndGlyphs" font-weight="bold">****</text>
<line x1="355.3" y1="44.5" x2="372.5" y2="44.5" stroke="#222" stroke-width="1.0"/>
<text x="358.5" y="44.8" font-size="7.4" fill="#222" textLength="10.8" lengthAdjust="spacingAndGlyphs" font-weight="bold">****</text>
<line x1="416.5" y1="50.5" x2="433.8" y2="50.5" stroke="#222" stroke-width="1.0"/>
<text x="419.8" y="50.8" font-size="7.4" fill="#222" textLength="10.8" lengthAdjust="spacingAndGlyphs" font-weight="bold">****</text>
<line x1="355.2" y1="132.5" x2="396.6" y2="132.5" stroke="#222" stroke-width="1.0"/>
<text x="373.3" y="132.8" font-size="7.4" fill="#222" textLength="5.2" lengthAdjust="spacingAndGlyphs" font-weight="bold">**</text>
<line x1="355.2" y1="141.5" x2="371.5" y2="141.5" stroke="#222" stroke-width="1.0"/>
<text x="359.4" y="141.8" font-size="7.4" fill="#222" textLength="8.0" lengthAdjust="spacingAndGlyphs" font-weight="bold">***</text>
<line x1="416.5" y1="156.5" x2="433.6" y2="156.5" stroke="#222" stroke-width="1.0"/>
<text x="421.1" y="156.8" font-size="7.4" fill="#222" textLength="8.0" lengthAdjust="spacingAndGlyphs" font-weight="bold">***</text>
<line x1="367.3" y1="234.5" x2="432.7" y2="234.5" stroke="#222" stroke-width="1.0"/>
<text x="397.4" y="234.8" font-size="7.4" fill="#222" textLength="5.2" lengthAdjust="spacingAndGlyphs" font-weight="bold">**</text>
<line x1="355.2" y1="243.5" x2="396.6" y2="243.5" stroke="#222" stroke-width="1.0"/>
<text x="370.5" y="243.8" font-size="7.4" fill="#222" textLength="10.8" lengthAdjust="spacingAndGlyphs" font-weight="bold">****</text>
<line x1="355.2" y1="253.5" x2="371.3" y2="253.5" stroke="#222" stroke-width="1.0"/>
<text x="357.9" y="253.8" font-size="7.4" fill="#222" textLength="10.8" lengthAdjust="spacingAndGlyphs" font-weight="bold">****</text>
<text x="453.1" y="42.7" font-size="9" font-style="italic" fill="#222" stroke="#222" stroke-width="0.12" textLength="31.2" lengthAdjust="spacingAndGlyphs">NFKBID</text>
<text x="453.5" y="53.8" font-size="9" font-style="italic" fill="#222" stroke="#222" stroke-width="0.12" textLength="29.5" lengthAdjust="spacingAndGlyphs">(IKBNS)</text>
<text x="453.0" y="145.4" font-size="9" font-style="italic" fill="#222" stroke="#222" stroke-width="0.12" textLength="37.5" lengthAdjust="spacingAndGlyphs">ZC3H12A</text>
<text x="453.0" y="156.5" font-size="9" font-style="italic" fill="#222" stroke="#222" stroke-width="0.12" textLength="59.6" lengthAdjust="spacingAndGlyphs">(MCPIP1/Reg1)</text>
<text x="453.1" y="252.3" font-size="9" font-style="italic" fill="#222" stroke="#222" stroke-width="0.12" textLength="29.7" lengthAdjust="spacingAndGlyphs">NFKBIZ</text>
<text x="455.8" y="263.4" font-size="9" font-style="italic" fill="#222" stroke="#222" stroke-width="0.12" textLength="23.8" lengthAdjust="spacingAndGlyphs">(IKBZ)</text>
<g transform="translate(360.1,338.8) rotate(-90)">
<text x="0.0" y="0.0" font-size="6.4" fill="#333" textLength="14.8" lengthAdjust="spacingAndGlyphs">mock</text>
</g>
<g transform="translate(372.5,332.7) rotate(-90)">
<text x="0.0" y="0.0" font-size="6.4" fill="#333" textLength="8.7" lengthAdjust="spacingAndGlyphs">WT</text>
</g>
<g transform="translate(384.8,332.7) rotate(-90)">
<text x="0.0" y="0.0" font-size="6.4" fill="#333" textLength="8.7" lengthAdjust="spacingAndGlyphs">PM</text>
</g>
<g transform="translate(397.1,337.8) rotate(-90)">
<text x="0.0" y="0.0" font-size="6.4" fill="#333" textLength="13.8" lengthAdjust="spacingAndGlyphs">TBM</text>
</g>
<g transform="translate(409.4,348.8) rotate(-90)">
<text x="0.0" y="0.0" font-size="6.4" fill="#333" textLength="24.8" lengthAdjust="spacingAndGlyphs">PM/TBM</text>
</g>
<g transform="translate(421.7,338.8) rotate(-90)">
<text x="0.0" y="0.0" font-size="6.4" fill="#333" textLength="14.8" lengthAdjust="spacingAndGlyphs">mock</text>
</g>
<g transform="translate(434.1,332.7) rotate(-90)">
<text x="0.0" y="0.0" font-size="6.4" fill="#333" textLength="8.7" lengthAdjust="spacingAndGlyphs">WT</text>
</g>
<g transform="translate(446.4,332.7) rotate(-90)">
<text x="0.0" y="0.0" font-size="6.4" fill="#333" textLength="8.7" lengthAdjust="spacingAndGlyphs">PM</text>
</g>
<line x1="351.5" y1="352.4" x2="409.2" y2="352.4" stroke="#222" stroke-width="0.9"/>
<line x1="414.3" y1="352.4" x2="448.8" y2="352.4" stroke="#222" stroke-width="0.9"/>
<text x="364.3" y="360.8" font-size="6.4" fill="#333" textLength="31.9" lengthAdjust="spacingAndGlyphs">MALT1 KO</text>
<text x="420.4" y="360.8" font-size="6.4" fill="#333" textLength="22.3" lengthAdjust="spacingAndGlyphs">MALT1/</text>
<text x="414.2" y="369.1" font-size="6.4" fill="#333" textLength="34.6" lengthAdjust="spacingAndGlyphs">TRAF6 dKO</text>
<line x1="351.5" y1="373.6" x2="448.0" y2="373.6" stroke="#222" stroke-width="0.9"/>
<text x="366.5" y="381.6" font-size="6.4" fill="#333" textLength="64.7" lengthAdjust="spacingAndGlyphs">BJAB CARD11 L232LI</text>
</g>
<rect x="0.0" y="0.0" width="520.0" height="0.9" fill="#555"/>
<rect x="0.0" y="0.0" width="0.9" height="391.0" fill="#555"/>
<rect x="518.7" y="0.0" width="1.3" height="391.0" fill="#555"/>
<rect x="0.0" y="389.8" width="520.0" height="1.2" fill="#3a3a3a"/>
</svg>
</body></html>
